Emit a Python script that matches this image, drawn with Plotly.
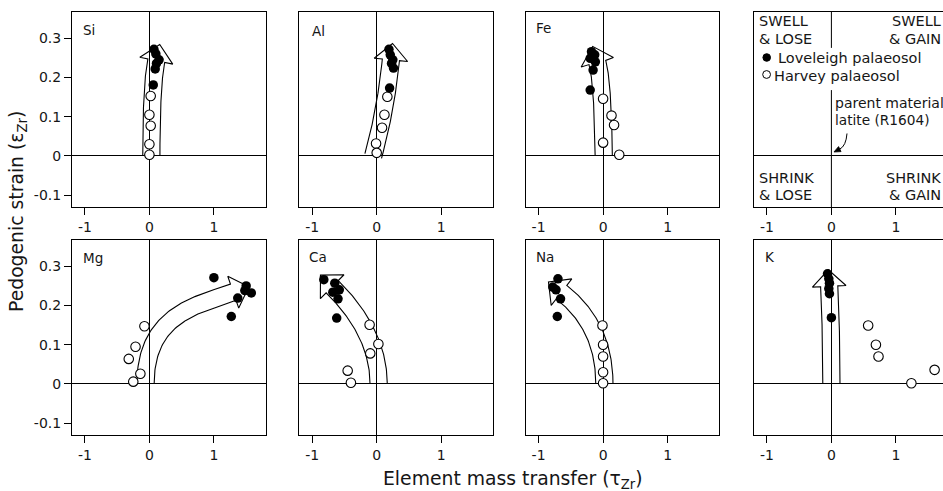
import numpy as np
import plotly.graph_objects as go

W, H = 943, 491

# ---------------- data ----------------
# tau_Zr (element mass transfer) and epsilon_Zr (pedogenic strain)
si_love_tau = [0.07, 0.10, 0.15, 0.11, 0.09, 0.06]
si_love_strain = [0.272, 0.260, 0.245, 0.236, 0.222, 0.181]
si_harv_tau = [0.02, 0.00, 0.02, 0.00, 0.00]
si_harv_strain = [0.153, 0.105, 0.077, 0.030, 0.003]

al_love_tau = [0.19, 0.21, 0.25, 0.23, 0.26, 0.20]
al_love_strain = [0.272, 0.258, 0.245, 0.236, 0.224, 0.173]
al_harv_tau = [0.165, 0.12, 0.083, -0.01, 0.00]
al_harv_strain = [0.151, 0.105, 0.072, 0.032, 0.008]

fe_love_tau = [-0.18, -0.13, -0.20, -0.12, -0.155, -0.20]
fe_love_strain = [0.266, 0.258, 0.249, 0.240, 0.219, 0.168]
fe_harv_tau = [0.00, 0.13, 0.17, 0.00, 0.25]
fe_harv_strain = [0.146, 0.103, 0.079, 0.034, 0.003]

mg_love_tau = [1.00, 1.50, 1.58, 1.48, 1.37, 1.27]
mg_love_strain = [0.271, 0.250, 0.232, 0.238, 0.219, 0.172]
mg_harv_tau = [-0.077, -0.215, -0.32, -0.14, -0.25]
mg_harv_strain = [0.147, 0.095, 0.064, 0.026, 0.006]

ca_love_tau = [-0.82, -0.65, -0.58, -0.68, -0.60, -0.62]
ca_love_strain = [0.266, 0.257, 0.240, 0.234, 0.217, 0.168]
ca_harv_tau = [-0.11, 0.026, -0.10, -0.45, -0.40]
ca_harv_strain = [0.151, 0.102, 0.078, 0.034, 0.003]

na_love_tau = [-0.70, -0.78, -0.73, -0.66, -0.71]
na_love_strain = [0.268, 0.247, 0.240, 0.217, 0.172]
na_harv_tau = [-0.01, 0.00, 0.00, 0.00, 0.00]
na_harv_strain = [0.149, 0.100, 0.070, 0.030, 0.002]

k_love_tau = [-0.06, -0.04, -0.03, -0.04, -0.03, 0.00]
k_love_strain = [0.281, 0.268, 0.257, 0.243, 0.230, 0.169]
k_harv_tau = [0.57, 0.69, 0.73, 1.24, 1.60]
k_harv_strain = [0.149, 0.100, 0.070, 0.002, 0.036]

# trend arrows: centre-line Bezier control points (tau, strain)
si_arrow = [(0.03, 0.0), (0.03, 0.183), (0.107, 0.243)]
al_arrow = [(-0.054, 0.0), (0.144, 0.118), (0.22, 0.245)]
fe_arrow = [(0.01, 0.0), (-0.003, 0.19), (-0.09, 0.239)]
mg_arrow = [(-0.06, 0.0), (-0.06, 0.175), (0.718, 0.201), (1.30, 0.234)]
ca_arrow = [(0.03, 0.0), (0.03, 0.131), (-0.69, 0.248)]
na_arrow = [(0.02, 0.0), (0.02, 0.149), (-0.645, 0.234)]
k_arrow = [(0.0, 0.0), (0.0, 0.136), (-0.034, 0.249)]

element_labels = ["Si", "Al", "Fe", "Mg", "Ca", "Na", "K"]
y_tick_vals = [0.3, 0.2, 0.1, 0, -0.1]
y_tick_text = ["0.3", "0.2", "0.1", "0", "-0.1"]
x_tick_vals = [-1, 0, 1]
x_tick_text = ["-1", "0", "1"]

panels = [
    # (label, axis number, loveleigh x, y, harvey x, y, arrow)
    ("Si", 1, si_love_tau, si_love_strain, si_harv_tau, si_harv_strain, si_arrow),
    ("Al", 2, al_love_tau, al_love_strain, al_harv_tau, al_harv_strain, al_arrow),
    ("Fe", 3, fe_love_tau, fe_love_strain, fe_harv_tau, fe_harv_strain, fe_arrow),
    ("Mg", 5, mg_love_tau, mg_love_strain, mg_harv_tau, mg_harv_strain, mg_arrow),
    ("Ca", 6, ca_love_tau, ca_love_strain, ca_harv_tau, ca_harv_strain, ca_arrow),
    ("Na", 7, na_love_tau, na_love_strain, na_harv_tau, na_harv_strain, na_arrow),
    ("K", 8, k_love_tau, k_love_strain, k_harv_tau, k_harv_strain, k_arrow),
]

# ---------------- geometry ----------------
FONT = "DejaVu Sans"
INK = "#161616"
col_left = [72, 299.3, 525.7, 754]
col_w = 193.5
row_top = [12, 240]
row_h = 195
x_range = [-1.2, 1.8]
y_range = [-0.13, 0.367]
sx = col_w / (x_range[1] - x_range[0])
sy = row_h / (y_range[1] - y_range[0])


def px(x, y):
    return x / W, 1 - y / H


def bezier(P, t):
    Q = np.repeat(P[None, :, :], len(t), axis=0)
    tt = t[:, None, None]
    while Q.shape[1] > 1:
        Q = (1 - tt) * Q[:, :-1] + tt * Q[:, 1:]
    return Q[:, 0]


def arrow_outline(ctrl, half_w=8.6, head_hw=16.8, head_len=16.5, n=80):
    P = np.array(ctrl, float) * [sx, sy]
    t = np.linspace(0, 1, n)
    pts = bezier(P, t)
    d = np.gradient(pts, axis=0)
    d /= np.linalg.norm(d, axis=1)[:, None]
    nrm = np.stack([-d[:, 1], d[:, 0]], axis=1)
    left = pts + half_w * nrm
    right = pts - half_w * nrm
    E = pts[-1]
    de = P[-1] - P[-2]
    de /= np.linalg.norm(de)
    ne = np.array([-de[1], de[0]])
    head = np.array([E + head_hw * ne, E + head_len * de, E - head_hw * ne])
    poly = np.vstack([left, head, right[::-1]])
    return poly[:, 0] / sx, poly[:, 1] / sy


fig = go.Figure()

for label, k, lx, ly, hx, hy, arr in panels:
    ax = "" if k == 1 else str(k)
    axx, axy = arrow_outline(arr)
    fig.add_trace(go.Scatter(x=axx, y=axy, mode="lines", xaxis="x" + ax, yaxis="y" + ax,
                             line=dict(color="black", width=1.1), hoverinfo="skip",
                             showlegend=False))
    fig.add_trace(go.Scatter(x=hx, y=hy, mode="markers", xaxis="x" + ax, yaxis="y" + ax,
                             name="Harvey palaeosol", showlegend=False,
                             marker=dict(symbol="circle", size=9.5, color="white",
                                         line=dict(color="black", width=1.1))))
    fig.add_trace(go.Scatter(x=lx, y=ly, mode="markers", xaxis="x" + ax, yaxis="y" + ax,
                             name="Loveleigh palaeosol", showlegend=False,
                             marker=dict(symbol="circle", size=9.5, color="black",
                                         line=dict(color="black", width=0))))

layout = dict(width=W, height=H, margin=dict(l=0, r=0, t=0, b=0, pad=0),
              paper_bgcolor="white", plot_bgcolor="white", showlegend=False,
              font=dict(family=FONT, color=INK, size=14))

for i in range(8):
    r, c = divmod(i, 4)
    ax = "" if i == 0 else str(i + 1)
    x0 = col_left[c]
    x1 = min(x0 + col_w, W)
    xr = [x_range[0], x_range[0] + (x1 - x0) / sx]
    ydom = [1 - (row_top[r] + row_h) / H, 1 - row_top[r] / H]
    layout["xaxis" + ax] = dict(
        domain=[x0 / W, x1 / W], range=xr, anchor="y" + ax,
        showline=True, mirror=True, linecolor="black", linewidth=1,
        ticks="outside", ticklen=7, tickwidth=1, tickcolor="black",
        tickvals=x_tick_vals, ticktext=x_tick_text,
        tickfont=dict(family=FONT, size=14, color=INK),
        showgrid=False, zeroline=(i != 3), zerolinecolor="black", zerolinewidth=1,
        fixedrange=True)
    layout["yaxis" + ax] = dict(
        domain=ydom, range=y_range, anchor="x" + ax,
        showline=True, mirror=(c != 3), linecolor="black", linewidth=1,
        ticks="outside" if c == 0 else "", ticklen=7, tickwidth=1, tickcolor="black",
        showticklabels=(c == 0), tickvals=y_tick_vals, ticktext=y_tick_text,
        tickfont=dict(family=FONT, size=14, color=INK),
        showgrid=False, zeroline=True, zerolinecolor="black", zerolinewidth=1,
        fixedrange=True)

fig.update_layout(**layout)

annotations = []
# element labels
label_pos = [(82.7, 29.5), (311.7, 30.5), (536, 28.3), (82.7, 258.3), (309, 257), (536, 257), (765, 256.7)]
for lab, (lx_, ly_) in zip(element_labels, label_pos):
    x, y = px(lx_ - 2, ly_)
    annotations.append(dict(text=lab, x=x, y=y, xref="paper", yref="paper", xanchor="left",
                            yanchor="middle", showarrow=False,
                            font=dict(family=FONT, size=13.5, color=INK)))

# axis titles
x, y = px(17.5, 211.5)
annotations.append(dict(text="Pedogenic strain (\u03b5<sub>Zr</sub>)", x=x, y=y, xref="paper",
                        yref="paper", textangle=-90, showarrow=False, xanchor="center",
                        yanchor="middle", font=dict(family=FONT, size=18.8, color=INK)))
x, y = px(513, 479.5)
annotations.append(dict(text="Element mass transfer (\u03c4<sub>Zr</sub>)", x=x, y=y, xref="paper",
                        yref="paper", showarrow=False, xanchor="center", yanchor="middle",
                        font=dict(family=FONT, size=18.8, color=INK)))

# key panel text
key_texts = [
    ("SWELL", 758.3, 21.5, "left", 14.5), ("&amp; LOSE", 758.3, 38.7, "left", 14.5),
    ("SWELL", 942, 21.5, "right", 14.5), ("&amp; GAIN", 942, 38.7, "right", 14.5),
    ("SHRINK", 758.3, 178.0, "left", 14.5), ("&amp; LOSE", 758.3, 195.0, "left", 14.5),
    ("SHRINK", 942, 178.0, "right", 14.5), ("&amp; GAIN", 942, 195.0, "right", 14.5),
    ("Loveleigh palaeosol", 777.3, 58.2, "left", 14.5),
    ("Harvey palaeosol", 772.7, 75.5, "left", 14.5),
    ("parent material", 834, 103, "left", 14),
    ("latite (R1604)", 834, 119.7, "left", 13.7),
]
for txt, tx, ty, anc, fs in key_texts:
    x, y = px(tx, ty)
    annotations.append(dict(text=txt, x=x, y=y, xref="paper", yref="paper", xanchor=anc,
                            yanchor="middle", showarrow=False, borderpad=0,
                            font=dict(family=FONT, size=fs, color=INK)))

shapes = []
# key symbols
for cx, cy, r, fill in [(766.7, 57.5, 3.8, "black"), (766.6, 74.5, 3.9, "white")]:
    xa, ya = px(cx - r, cy + r)
    xb, yb = px(cx + r, cy - r)
    shapes.append(dict(type="circle", xref="paper", yref="paper", x0=xa, x1=xb, y0=ya, y1=yb,
                       fillcolor=fill, line=dict(color="black", width=1)))
# broken tau=0 line in key panel
for y0_, y1_ in [(y_range[1], 0.2755), (0.168, y_range[0])]:
    shapes.append(dict(type="line", xref="x4", yref="y4", x0=0, x1=0, y0=y0_, y1=y1_,
                       line=dict(color="black", width=1)))

# curved pointer from the parent-material note to the origin
p_start, p_ctrl, p_tip = (847.0, 133.5), (846.0, 146.0), (834.0, 152.0)
d = np.array(p_tip) - np.array(p_ctrl)
d /= np.linalg.norm(d)
nv = np.array([-d[1], d[0]])
base = np.array(p_tip) - 6.5 * d
wing1, wing2 = base + 2.8 * nv, base - 2.8 * nv


def pp(pt):
    x, y = px(*pt)
    return f"{x:.5f},{y:.5f}"


shapes.append(dict(type="path", xref="paper", yref="paper",
                   path=f"M {pp(p_start)} Q {pp(p_ctrl)} {pp(tuple(base))}",
                   line=dict(color="black", width=1)))
shapes.append(dict(type="path", xref="paper", yref="paper",
                   path=f"M {pp(p_tip)} L {pp(tuple(wing1))} L {pp(tuple(wing2))} Z",
                   fillcolor="black", line=dict(color="black", width=0.8)))

fig.update_layout(annotations=annotations, shapes=shapes)
fig.write_html("out.html", config={"displayModeBar": False},
               post_script="document.body.style.margin='0';document.body.style.overflow='hidden';")
